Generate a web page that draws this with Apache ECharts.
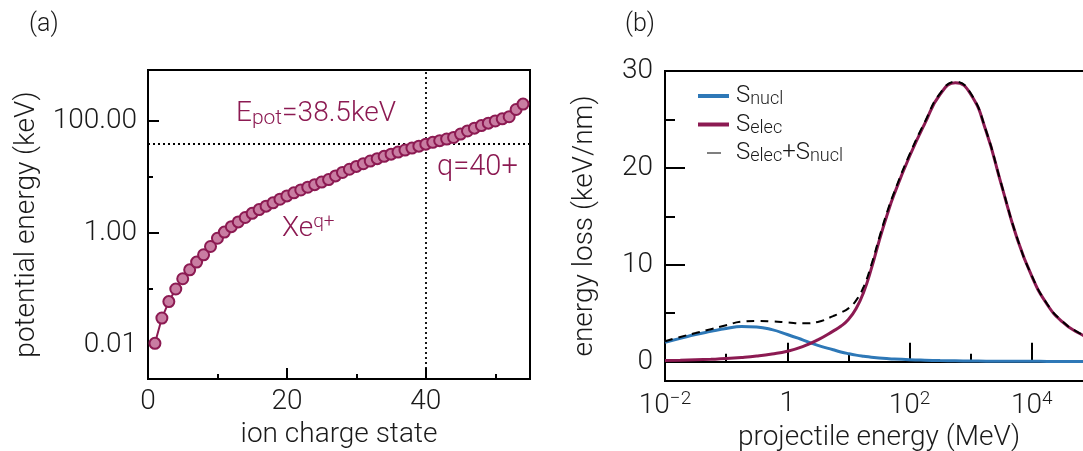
<!DOCTYPE html>
<html>
<head>
<meta charset="utf-8">
<script src="https://cdn.jsdelivr.net/npm/echarts@6/dist/echarts.min.js"></script>
<style>
html,body{margin:0;padding:0;background:#fff;}
#chart{width:1083px;height:451px;}
</style>
</head>
<body>
<div id="chart"></div>
<script>
// ---------- Panel (a): Xe potential energy vs. charge state ----------
const chargeStates = [1,2,3,4,5,6,7,8,9,10,11,12,13,14,15,16,17,18,19,20,21,22,23,24,25,26,27,28,29,30,31,32,33,34,35,36,37,38,39,40,41,42,43,44,45,46,47,48,49,50,51,52,53,54];
const potentialEnergyKeV = [0.0106,0.030,0.059,0.099,0.151,0.218,0.30,0.405,0.57,0.80,
  1.03,1.29,1.57,1.88,2.23,2.60,3.0,3.44,3.99,4.57,
  5.19,5.84,6.54,7.27,8.09,8.95,10.4,12.0,13.7,15.4,
  17.2,19.2,21.2,23.3,25.5,27.8,30.2,32.7,35.4,38.5,
  41.4,44.4,47.5,50.7,58.3,66.2,74.3,82.6,91.2,100,
  109,119,160,200];
const markCharge = 40;
const markEnergy = 38.5;
const aXMajorTicks = [0,20,40];
const aXMinorTicks = [10,30,50];
const aYMajorTicks = [0.01,1,100];
const aYMinorTicks = [0.1,10];

// ---------- Panel (b): stopping power vs. projectile energy ----------
const projectileEnergyMeV = [0.01,0.0178,0.0316,0.0562,0.1,0.178,0.316,0.562,1,1.78,3.16,5.62,7.5,10,13.3,17.8,23.7,31.6,42.2,56.2,100,178,316,562,1000,1780,3160,5620,10000,17800,31600,56200,100000];
const sNucl = [2.0,2.4,2.8,3.12,3.42,3.63,3.58,3.3,2.8,2.25,1.68,1.22,1.0,0.82,0.67,0.55,0.45,0.38,0.32,0.27,0.2,0.15,0.11,0.08,0.06,0.05,0.04,0.035,0.03,0.025,0.02,0.02,0.02];
const sElec = [0.12,0.15,0.19,0.24,0.31,0.42,0.57,0.78,1.07,1.55,2.25,3.15,3.65,4.35,5.45,7.2,9.6,12.4,15.0,17.3,21.2,24.6,27.6,28.8,27.6,23.8,18.3,12.9,8.8,5.9,4.1,3.0,2.3];
const sTotal = [2.1,2.55,2.95,3.35,3.75,4.12,4.2,4.15,4.05,3.95,4.1,4.7,5.05,5.5,6.3,7.75,10.0,12.7,15.3,17.5,21.4,24.75,27.7,28.9,27.7,23.85,18.35,12.95,8.85,5.95,4.15,3.05,2.35];
const bXMajorTicks = [0.01,1,100,10000];
const bXMinorTicks = [0.1,10,1000,100000];
const bYMajorTicks = [0,10,20,30];
const bYMinorTicks = [5,15,25];

const MAG = '#8C1A52';
const MAG_FILL = '#C97DA2';
const BLUE = '#2E78B7';
const FONT = 'Roboto';
const TXT = '#1a1a1a';

const pairs = (xs, ys) => xs.map((x, i) => [x, ys[i]]);

function supLabel(v) {
  const p = Math.round(Math.log10(v));
  if (p === 0) return '1';
  return '10{sup|' + (p < 0 ? '\u2212' : '') + Math.abs(p) + '}';
}

const tickLabelStyle = {fontFamily: FONT, fontWeight: 300, fontSize: 28, color: TXT};
const nameStyle = {fontFamily: FONT, fontWeight: 300, fontSize: 28, color: TXT};
const axisLine = {show: true, lineStyle: {color: '#000', width: 2}};
const tickLine = {color: '#000', width: 2};

const gridA = {left: 148, top: 70, width: 382, height: 309, outerBoundsMode: 'none', containLabel: false};
const gridB = {left: 665, top: 71, width: 428, height: 310, outerBoundsMode: 'none', containLabel: false};

function tickAxis(type, gridIndex, min, max, position, len, values) {
  return {type: type, gridIndex: gridIndex, min: min, max: max, position: position,
    axisLine: {show: false}, splitLine: {show: false},
    axisTick: {show: true, inside: true, length: len, lineStyle: tickLine, customValues: values},
    axisLabel: {show: false}};
}

const chart = echarts.init(document.getElementById('chart'), null, {renderer: 'canvas'});

const option = {
  animation: false,
  backgroundColor: '#fff',
  grid: [
    Object.assign({show: true, borderColor: '#000', borderWidth: 2}, gridA),
    Object.assign({show: true, borderColor: '#000', borderWidth: 2}, gridB),
    Object.assign({show: false}, gridA),
    Object.assign({show: false}, gridB),
    Object.assign({show: false}, gridA),
    Object.assign({show: false}, gridB)
  ],
  xAxis: [
    {type: 'value', gridIndex: 0, min: 0, max: 55, position: 'bottom',
     axisLine: axisLine, splitLine: {show: false}, axisTick: {show: false},
     axisLabel: {customValues: aXMajorTicks, margin: 9, ...tickLabelStyle},
     name: 'ion charge state', nameLocation: 'middle', nameGap: 39, nameTextStyle: nameStyle},
    {type: 'log', logBase: 10, gridIndex: 1, min: 0.01, max: 100000, position: 'bottom',
     axisLine: axisLine, splitLine: {show: false}, axisTick: {show: false},
     axisLabel: {customValues: bXMajorTicks, margin: 9, formatter: supLabel, ...tickLabelStyle,
       rich: {sup: {fontFamily: FONT, fontWeight: 300, fontSize: 19, color: TXT, verticalAlign: 'top', padding: [0,0,12,0]}}},
     name: 'projectile energy (MeV)', nameLocation: 'middle', nameGap: 38, nameTextStyle: nameStyle},
    tickAxis('value', 2, 0, 55, 'bottom', 11, aXMajorTicks),
    tickAxis('log', 3, 0.01, 100000, 'bottom', 19, bXMajorTicks),
    tickAxis('value', 4, 0, 55, 'bottom', 5, aXMinorTicks),
    tickAxis('log', 5, 0.01, 100000, 'bottom', 8, bXMinorTicks)
  ],
  yAxis: [
    {type: 'log', logBase: 10, gridIndex: 0, min: 0.00244, max: 814, position: 'left',
     axisLine: axisLine, splitLine: {show: false}, axisTick: {show: false},
     axisLabel: {customValues: aYMajorTicks, margin: 11, formatter: v => Number(v).toFixed(2), ...tickLabelStyle},
     name: 'potential energy (keV)', nameLocation: 'middle', nameRotate: 90, nameGap: 107, nameTextStyle: nameStyle},
    {type: 'value', gridIndex: 1, min: -2, max: 30, position: 'left',
     axisLine: axisLine, splitLine: {show: false}, axisTick: {show: false},
     axisLabel: {customValues: bYMajorTicks, margin: 12, ...tickLabelStyle},
     name: 'energy loss (keV/nm)', nameLocation: 'middle', nameRotate: 90, nameGap: 66, nameTextStyle: nameStyle},
    tickAxis('log', 2, 0.00244, 814, 'left', 11, aYMajorTicks),
    tickAxis('value', 3, -2, 30, 'left', 20, bYMajorTicks),
    tickAxis('log', 4, 0.00244, 814, 'left', 5, aYMinorTicks),
    tickAxis('value', 5, -2, 30, 'left', 10, bYMinorTicks)
  ],
  legend: {
    orient: 'vertical', left: 693, top: 79, itemWidth: 31, itemHeight: 4, itemGap: 4,
    data: [
      {name: 'Snucl', icon: 'rect'},
      {name: 'Selec', icon: 'rect'},
      {name: 'Ssum', icon: 'path://M0,0L0.01,0M9,0H23V1H9ZM31,1L31.01,1'}
    ],
    textStyle: {fontFamily: FONT, fontWeight: 300, fontSize: 24, color: TXT, padding: [0,0,0,2],
      rich: {sub: {fontFamily: FONT, fontWeight: 300, fontSize: 18, color: TXT, verticalAlign: 'bottom', padding: [7,0,0,0]}}},
    formatter: name => ({Snucl: 'S{sub|nucl}', Selec: 'S{sub|elec}', Ssum: 'S{sub|elec}+S{sub|nucl}'}[name])
  },
  series: [
    {name: 'Xe', type: 'line', xAxisIndex: 0, yAxisIndex: 0, data: pairs(chargeStates, potentialEnergyKeV),
     symbol: 'circle', symbolSize: 11, showSymbol: true,
     itemStyle: {color: MAG_FILL, borderColor: MAG, borderWidth: 2},
     lineStyle: {color: MAG, width: 2}, z: 3,
     markLine: {silent: true, symbol: 'none', label: {show: false}, z: 1,
       lineStyle: {color: '#000', type: [2, 3], width: 1.8},
       data: [{xAxis: markCharge}, {yAxis: markEnergy}]}},
    {name: 'Snucl', type: 'line', xAxisIndex: 1, yAxisIndex: 1, data: pairs(projectileEnergyMeV, sNucl),
     showSymbol: false, symbol: 'none', smooth: 0.5, lineStyle: {color: BLUE, width: 3}, itemStyle: {color: BLUE}},
    {name: 'Selec', type: 'line', xAxisIndex: 1, yAxisIndex: 1, data: pairs(projectileEnergyMeV, sElec),
     showSymbol: false, symbol: 'none', smooth: 0.5, lineStyle: {color: MAG, width: 3}, itemStyle: {color: MAG}},
    {name: 'Ssum', type: 'line', xAxisIndex: 1, yAxisIndex: 1, data: pairs(projectileEnergyMeV, sTotal),
     showSymbol: false, symbol: 'none', smooth: 0.5, lineStyle: {color: '#000', width: 2, type: [8, 6]}, itemStyle: {color: '#000'}}
  ],
  graphic: [
    {type: 'text', left: 29, top: 12, style: {text: '(a)', font: '300 25px ' + FONT, fill: TXT}},
    {type: 'text', left: 625, top: 12, style: {text: '(b)', font: '300 25px ' + FONT, fill: TXT}},
    {type: 'text', left: 236, top: 100, style: {text: 'E{sub|pot}=38.5keV', font: '300 28px ' + FONT, fill: MAG,
      rich: {sub: {font: '300 21px ' + FONT, fill: MAG, verticalAlign: 'bottom', padding: [9,0,0,0]}}}},
    {type: 'text', left: 437, top: 153, style: {text: 'q=40+', font: '300 29px ' + FONT, fill: MAG}},
    {type: 'text', left: 282, top: 213, style: {text: 'Xe{sup|q+}', font: '300 28px ' + FONT, fill: MAG,
      rich: {sup: {font: '300 19px ' + FONT, fill: MAG, verticalAlign: 'top', padding: [0,0,12,0]}}}}
  ]
};
chart.setOption(option);
</script>
</body>
</html>
